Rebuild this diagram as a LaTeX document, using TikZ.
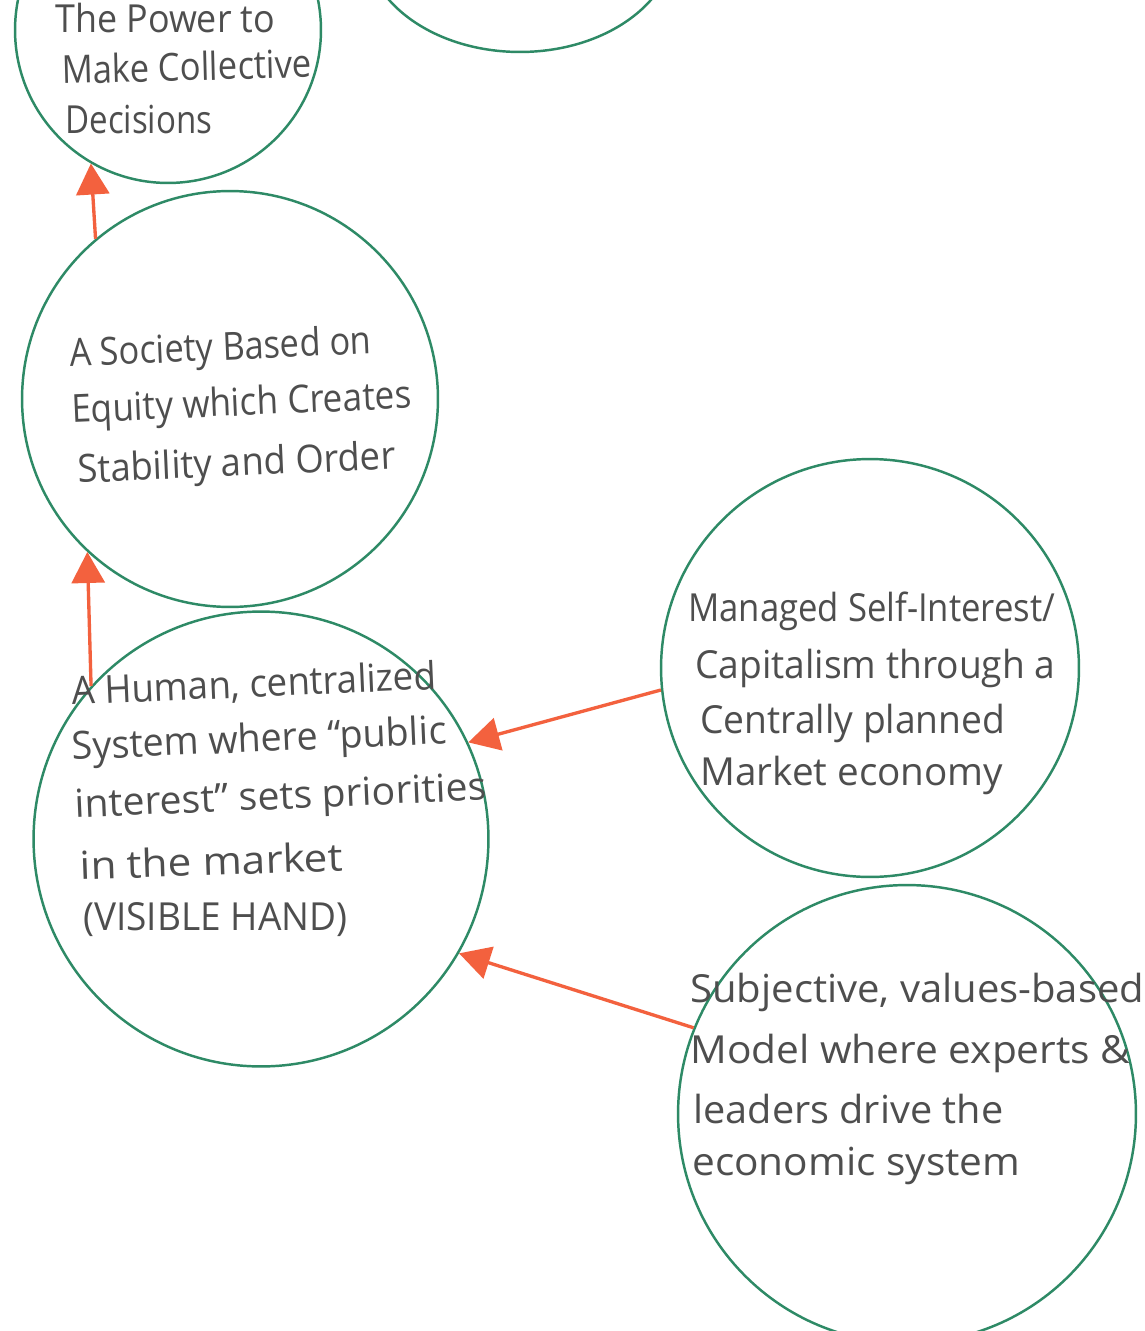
\documentclass[tikz,border=0pt]{standalone}
\usepackage{fontspec}
\usepackage{graphicx}
\setmainfont{Open Sans}
\usetikzlibrary{arrows.meta,shapes.geometric}
\definecolor{ring}{RGB}{46,138,102}
\definecolor{arr}{RGB}{243,97,62}
\definecolor{ink}{RGB}{78,78,78}
\newcommand\fitw[2]{\resizebox{\dimexpr #1cm/50\relax}{\height}{#2}}
\begin{document}
\begin{tikzpicture}[x=0.02cm,y=-0.02cm,
  ring/.style={circle,draw=ring,line width=1.4pt,inner sep=0},
  link/.style={draw=arr,line width=1.9pt,-{Triangle[length=0.62cm,width=0.66cm]}},
  txt/.style={anchor=base west,inner sep=0,text=ink,font=\fontsize{22}{26}\selectfont}]
\useasboundingbox (0,0) rectangle (1144,1331);
\clip (0,0) rectangle (1144,1331);
\fill[white] (0,0) rectangle (1144,1331);
% circles
\node[ring,minimum size=6.12cm] (power) at (168,30) {};
\node[ellipse,draw=ring,line width=1.4pt,inner sep=0,minimum width=6.2cm,minimum height=4.48cm] (topmid) at (520,-60) {};
\node[ring,minimum size=8.32cm] (soc) at (230,399) {};
\node[ring,minimum size=9.1cm] (human) at (261,839) {};
\node[ring,minimum size=8.36cm] (mgd) at (870,668) {};
\node[ring,minimum size=9.16cm] (subj) at (907,1114) {};
% arrows
\draw[link] (soc.130.3) -- (power.-120.6);
\draw[link] (human.138.9) -- (soc.-133.4);
\draw[link] (mgd.-174) -- (human.25.7);
\draw[link] (subj.158.6) -- (human.-30.4);
% texts
\node[txt] (p1) at (55,33) {\fitw{220}{The Power to}};
\node[txt,rotate=1.5] (p2) at (62,84) {\fitw{250}{Make Collective}};
\node[txt] (p3) at (65,133) {\fitw{147}{Decisions}};
\node[txt,rotate=2.5] (s1) at (70,367) {\fitw{302}{A Society Based on}};
\node[txt,rotate=2.5] (s2) at (72,423) {\fitw{340}{Equity which Creates}};
\node[txt,rotate=2.5] (s3) at (78,483) {\fitw{318}{Stability and Order}};
\node[txt,rotate=2.5] (h1) at (72,705) {\fitw{365}{A Human, centralized}};
\node[txt,rotate=2.5] (h2) at (72,760) {\fitw{375}{System where ``public}};
\node[txt,rotate=2.5] (h3) at (75,818) {\fitw{412}{interest'' sets priorities}};
\node[txt,rotate=2] (h4) at (80,880) {\fitw{263}{in the market}};
\node[txt] (h5) at (83,930) {\fitw{264}{(VISIBLE HAND)}};
\node[txt] (m1) at (688,621) {\fitw{367}{Managed Self-Interest/}};
\node[txt] (m2) at (695,678) {\fitw{360}{Capitalism through a}};
\node[txt] (m3) at (700,733) {\fitw{305}{Centrally planned}};
\node[txt] (m4) at (700,785) {\fitw{303}{Market economy}};
\node[txt] (b1) at (690,1002) {\fitw{454}{Subjective, values-based}};
\node[txt] (b2) at (690,1063) {\fitw{440}{Model where experts \&}};
\node[txt] (b3) at (693,1123) {\fitw{310}{leaders drive the}};
\node[txt] (b4) at (692,1175) {\fitw{328}{economic system}};
\end{tikzpicture}
\end{document}
